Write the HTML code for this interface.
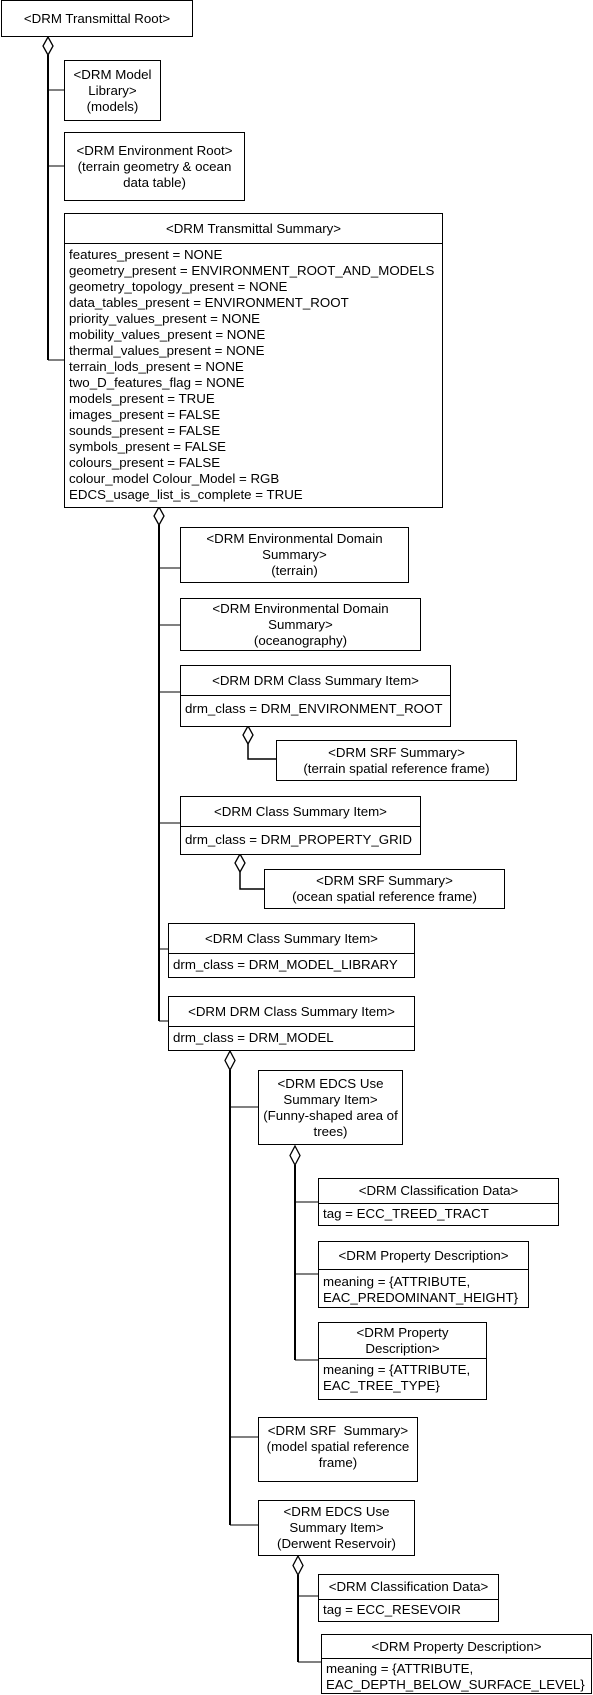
<!DOCTYPE html>
<html><head><meta charset="utf-8"><style>
body{margin:0;width:593px;height:1695px;background:#fff;position:relative;overflow:hidden;font-family:"Liberation Sans",Arial,sans-serif;font-size:13.3px;color:#000}
.b{position:absolute;box-sizing:border-box;border:1px solid #000;background:#fff;text-align:center;line-height:16px;display:flex;flex-direction:column;justify-content:center}
.c{position:absolute;box-sizing:border-box;border:1px solid #000;background:#fff;line-height:16px}
.c .h{text-align:center;border-bottom:1px solid #000;box-sizing:border-box;display:flex;flex-direction:column;justify-content:center}
.c .a{padding:2px 0 0 4px;white-space:nowrap}
svg{position:absolute;left:0;top:0}
</style></head><body>
<svg width="593" height="1695">
<g stroke="#000" fill="none">
<line x1="48" y1="55" x2="48" y2="360" stroke-width="2"/>
<line x1="48" y1="90" x2="64" y2="90"/>
<line x1="48" y1="166" x2="64" y2="166"/>
<line x1="48" y1="360" x2="64" y2="360"/>
<polygon points="48,37 53,46 48,55 43,46" fill="#fff" stroke-width="1.3"/>

<line x1="159" y1="525" x2="159" y2="1021" stroke-width="2"/>
<line x1="159" y1="568" x2="180" y2="568"/>
<line x1="159" y1="625" x2="180" y2="625"/>
<line x1="159" y1="692" x2="180" y2="692"/>
<line x1="159" y1="823" x2="180" y2="823"/>
<line x1="159" y1="949" x2="168" y2="949"/>
<line x1="159" y1="1021" x2="168" y2="1021"/>
<polygon points="159,507 164,516 159,525 154,516" fill="#fff" stroke-width="1.3"/>

<polyline points="248,744 248,759 276,759" stroke-width="1.5"/>
<polygon points="248,726 253,735 248,744 243,735" fill="#fff" stroke-width="1.3"/>
<polyline points="240,872 240,889 264,889" stroke-width="1.5"/>
<polygon points="240,854 245,863 240,872 235,863" fill="#fff" stroke-width="1.3"/>

<line x1="230" y1="1070" x2="230" y2="1525" stroke-width="2"/>
<line x1="230" y1="1107" x2="258" y2="1107"/>
<line x1="230" y1="1437" x2="258" y2="1437"/>
<line x1="230" y1="1525" x2="258" y2="1525"/>
<polygon points="230,1051 235,1060.5 230,1070 225,1060.5" fill="#fff" stroke-width="1.3"/>

<line x1="295" y1="1165" x2="295" y2="1360" stroke-width="2"/>
<line x1="295" y1="1202" x2="318" y2="1202"/>
<line x1="295" y1="1274" x2="318" y2="1274"/>
<line x1="295" y1="1360" x2="318" y2="1360"/>
<polygon points="295,1146 300,1155.5 295,1165 290,1155.5" fill="#fff" stroke-width="1.3"/>

<line x1="298" y1="1575" x2="298" y2="1662" stroke-width="2"/>
<line x1="298" y1="1596" x2="318" y2="1596"/>
<line x1="298" y1="1662" x2="321" y2="1662"/>
<polygon points="298,1556 303,1565.5 298,1575 293,1565.5" fill="#fff" stroke-width="1.3"/>
</g></svg>

<div class="b" style="left:1px;top:0;width:192px;height:37px">&lt;DRM Transmittal Root&gt;</div>
<div class="b" style="left:64px;top:60px;width:97px;height:61px">&lt;DRM Model<br>Library&gt;<br>(models)</div>
<div class="b" style="left:64px;top:132px;width:181px;height:69px">&lt;DRM Environment Root&gt;<br>(terrain geometry &amp; ocean<br>data table)</div>
<div class="c" style="left:64px;top:213px;width:379px;height:295px">
<div class="h" style="height:30px">&lt;DRM Transmittal Summary&gt;</div>
<div class="a" style="padding-top:3px">features_present = NONE<br>geometry_present = ENVIRONMENT_ROOT_AND_MODELS<br>geometry_topology_present = NONE<br>data_tables_present = ENVIRONMENT_ROOT<br>priority_values_present = NONE<br>mobility_values_present = NONE<br>thermal_values_present = NONE<br>terrain_lods_present = NONE<br>two_D_features_flag = NONE<br>models_present = TRUE<br>images_present = FALSE<br>sounds_present = FALSE<br>symbols_present = FALSE<br>colours_present = FALSE<br>colour_model Colour_Model = RGB<br>EDCS_usage_list_is_complete = TRUE</div>
</div>

<div class="b" style="left:180px;top:527px;width:229px;height:56px">&lt;DRM Environmental Domain<br>Summary&gt;<br>(terrain)</div>
<div class="b" style="left:180px;top:598px;width:241px;height:53px">&lt;DRM Environmental Domain<br>Summary&gt;<br>(oceanography)</div>
<div class="c" style="left:180px;top:665px;width:271px;height:62px">
<div class="h" style="height:30px">&lt;DRM DRM Class Summary Item&gt;</div>
<div class="a" style="padding-top:5px">drm_class = DRM_ENVIRONMENT_ROOT</div></div>
<div class="b" style="left:276px;top:740px;width:241px;height:41px">&lt;DRM SRF Summary&gt;<br>(terrain spatial reference frame)</div>
<div class="c" style="left:180px;top:796px;width:241px;height:59px">
<div class="h" style="height:30px">&lt;DRM Class Summary Item&gt;</div>
<div class="a" style="padding-top:5px">drm_class = DRM_PROPERTY_GRID</div></div>
<div class="b" style="left:264px;top:869px;width:241px;height:40px">&lt;DRM SRF Summary&gt;<br>(ocean spatial reference frame)</div>
<div class="c" style="left:168px;top:923px;width:247px;height:55px">
<div class="h" style="height:30px">&lt;DRM Class Summary Item&gt;</div>
<div class="a" style="padding-top:3px">drm_class = DRM_MODEL_LIBRARY</div></div>
<div class="c" style="left:168px;top:996px;width:247px;height:55px">
<div class="h" style="height:30px">&lt;DRM DRM Class Summary Item&gt;</div>
<div class="a" style="padding-top:3px">drm_class = DRM_MODEL</div></div>

<div class="b" style="left:258px;top:1070px;width:145px;height:75px">&lt;DRM EDCS Use<br>Summary Item&gt;<br>(Funny-shaped area of<br>trees)</div>
<div class="c" style="left:318px;top:1178px;width:241px;height:48px">
<div class="h" style="height:25px">&lt;DRM Classification Data&gt;</div>
<div class="a">tag = ECC_TREED_TRACT</div></div>
<div class="c" style="left:318px;top:1241px;width:211px;height:67px">
<div class="h" style="height:28px">&lt;DRM Property Description&gt;</div>
<div class="a" style="padding-top:4px">meaning = {ATTRIBUTE,<br>EAC_PREDOMINANT_HEIGHT}</div></div>
<div class="c" style="left:318px;top:1322px;width:169px;height:78px">
<div class="h" style="height:36px">&lt;DRM Property<br>Description&gt;</div>
<div class="a" style="padding-top:3px">meaning = {ATTRIBUTE,<br>EAC_TREE_TYPE}</div></div>
<div class="b" style="left:258px;top:1417px;width:160px;height:65px;justify-content:flex-start;padding-top:5px">&lt;DRM SRF&nbsp; Summary&gt;<br>(model spatial reference<br>frame)</div>
<div class="b" style="left:258px;top:1500px;width:157px;height:56px">&lt;DRM EDCS Use<br>Summary Item&gt;<br>(Derwent Reservoir)</div>
<div class="c" style="left:318px;top:1574px;width:181px;height:48px">
<div class="h" style="height:25px">&lt;DRM Classification Data&gt;</div>
<div class="a">tag = ECC_RESEVOIR</div></div>
<div class="c" style="left:321px;top:1634px;width:271px;height:60px">
<div class="h" style="height:24px">&lt;DRM Property Description&gt;</div>
<div class="a">meaning = {ATTRIBUTE,<br>EAC_DEPTH_BELOW_SURFACE_LEVEL}</div></div>
</body></html>
